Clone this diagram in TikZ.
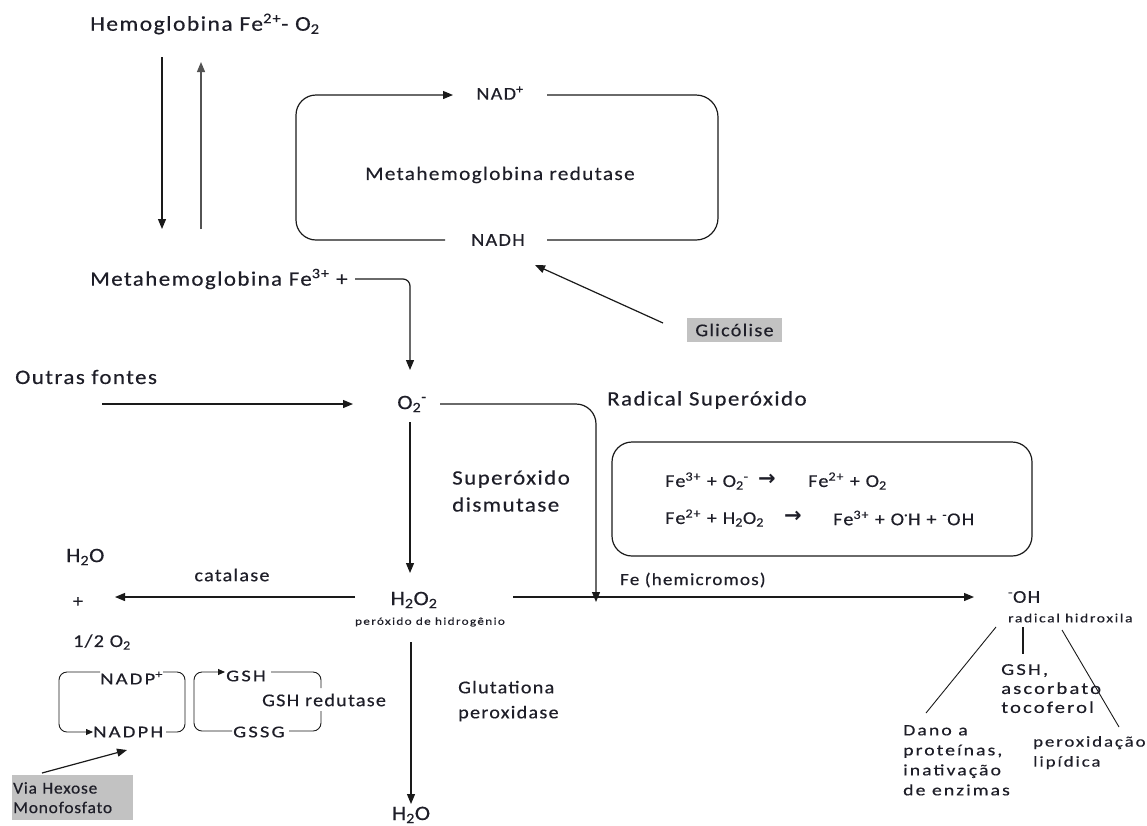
\documentclass[tikz,border=0pt]{standalone}
\usepackage{fontspec}
\setmainfont{Carlito}[LetterSpace=7,FakeStretch=1.12,FakeBold=0.4]
\newfontfamily\wideS{Carlito}[LetterSpace=13,FakeStretch=1.25,FakeBold=0.4]
\newfontfamily\normS{Carlito}[LetterSpace=5,FakeStretch=1.05,FakeBold=0.4]
\newfontfamily\dvsans{DejaVu Sans}
\usetikzlibrary{arrows.meta}
\definecolor{ink}{HTML}{1E1E28}
\definecolor{lc}{HTML}{1A1A1A}
\definecolor{gbox}{HTML}{C2C2C2}
\begin{document}
\begin{tikzpicture}[x=1pt,y=-1pt,
  t/.style={inner sep=0pt, text=ink},
  fL/.style={font=\fontsize{20.5}{27}\selectfont},
  fR/.style={font=\fontsize{19}{24}\selectfont},
  fM/.style={font=\fontsize{18}{25}\selectfont},
  fH/.style={font=\fontsize{17}{20}\selectfont},
  fS/.style={font=\wideS\fontsize{16.5}{20}\selectfont},
  fV/.style={font=\normS\fontsize{16.5}{19.5}\selectfont},
  fXS/.style={font=\wideS\fontsize{12.5}{15}\selectfont},
  fT/.style={font=\wideS\fontsize{10.5}{13}\selectfont},
  fA/.style={font=\dvsans\bfseries\fontsize{21}{22}\selectfont},
  ln/.style={draw=lc, line width=1.2pt},
  thin/.style={draw=lc, line width=0.9pt},
  arr/.style={ln, -{Triangle[length=10pt,width=8pt]}},
  arrs/.style={thin, -{Triangle[length=7pt,width=6pt]}},
  gray box/.style={fill=gbox, inner sep=0pt, text=ink}]
\useasboundingbox (0,0) rectangle (1147,825);

% hemoglobina
\node[t,fL,anchor=west,font=\fontsize{21}{27}\selectfont] (hb) at (90,24) {Hemoglobina Fe\textsuperscript{2+}- O\textsubscript{2}};
\node[t,fL,anchor=west] (mhb) at (90,279) {Metahemoglobina Fe\textsuperscript{3+} +};
\coordinate (d1s) at (162,57); \coordinate (d1e) at (162,229);
\coordinate (u1s) at (201,229); \coordinate (u1e) at (201,62);
\draw[arr] (d1s) -- (d1e);
\draw[arr,draw=lc!75] (u1s) -- (u1e);

% NAD box
\node[t,fM] (nadp) at (500,93) {NAD\textsuperscript{+}};
\node[t,fM] (nadh) at (498,240) {NADH};
\node[t,fR] (mhr) at (500,175) {Metahemoglobina redutase};
\coordinate (nbl) at (445,240); \coordinate (nbr) at (547,240);
\coordinate (ntl) at (453,95); \coordinate (ntr) at (547,95);
\draw[arr,rounded corners=20pt] (nbl) -- (296,240) -- (296,95) -- (ntl);
\draw[ln,rounded corners=22pt] (ntr) -- (718,95) -- (718,240) -- (nbr);

% glicolise
\node[gray box, fM, minimum width=95pt, minimum height=24pt] (gl) at (734.5,330) {Glicólise};
\coordinate (gla) at (663,323); \coordinate (glb) at (535,265);
\draw[arr] (gla) -- (glb);

% Metahemoglobina -> O2-
\node[t,fL] (o2) at (412,404) {O\textsubscript{2}\textsuperscript{-}};
\coordinate (m1) at (355,279); \coordinate (m2) at (410,370);
\draw[arr,rounded corners=7pt] (m1) -- (410,279) -- (m2);

% outras fontes
\node[t,fL,anchor=west] (of) at (15,377) {Outras fontes};
\coordinate (of1) at (102,404); \coordinate (of2) at (353,404);
\draw[arr] (of1) -- (of2);

% superoxide branch
\node[t,fL,anchor=west] (rs) at (607,400) {Radical Superóxido};
\coordinate (s1) at (440,404); \coordinate (s2) at (596,602);
\draw[arr,rounded corners=20pt] (s1) -- (596,404) -- (s2);

\node[t,fL,anchor=west,align=left] (sd) at (452,491) {Superóxido\\dismutase};
\coordinate (v1) at (410,422); \coordinate (v2) at (410,573);
\draw[arr] (v1) -- (v2);

% reaction box
\draw[ln,rounded corners=20pt] (612,442) rectangle (1032,556);
\node[t,fM,anchor=west] (r1a) at (665,481) {Fe\textsuperscript{3+} + O\textsubscript{2}\textsuperscript{-}};
\node[t,fA,anchor=west] (r1b) at (758,480) {→};
\node[t,fM,anchor=west] (r1c) at (808,481) {Fe\textsuperscript{2+} + O\textsubscript{2}};
\node[t,fM,anchor=west] (r2a) at (665,518) {Fe\textsuperscript{2+} + H\textsubscript{2}O\textsubscript{2}};
\node[t,fA,anchor=west] (r2b) at (784,517) {→};
\node[t,fM,anchor=west] (r2c) at (833,518) {Fe\textsuperscript{3+} + O\textsuperscript{·}H + \textsuperscript{-}OH};

% H2O2 and branches
\node[t,fL] (h2o2) at (414,600) {H\textsubscript{2}O\textsubscript{2}};
\node[t,fT] (perox) at (430,622) {peróxido de hidrogênio};
\node[t,fH,anchor=west] (hemi) at (620,580) {Fe (hemicromos)};
\coordinate (h1) at (513,597); \coordinate (h2) at (974,597);
\draw[arr] (h1) -- (h2);

\node[t,fM] (cat) at (232,575) {catalase};
\coordinate (c1) at (355,597); \coordinate (c2) at (115,597);
\draw[arr] (c1) -- (c2);
\node[t,fL,anchor=west] (h2o) at (66,557) {H\textsubscript{2}O};
\node[t,fM] (plus) at (78,602) {+};
\node[t,fM,anchor=west] (half) at (73,642) {1/2 O\textsubscript{2}};

% hydroxyl radical
\node[t,fM,anchor=west] (oh) at (1008,597) {\textsuperscript{-}OH};
\node[t,fXS,anchor=west] (rh) at (1008,618) {radical hidroxila};
\coordinate (l1a) at (996,627); \coordinate (l1b) at (926,713);
\coordinate (l2a) at (1023,627); \coordinate (l2b) at (1023,654);
\coordinate (l3a) at (1062,630); \coordinate (l3b) at (1119,727);
\draw[thin] (l1a) -- (l1b);
\draw[ln] (l2a) -- (l2b);
\draw[thin] (l3a) -- (l3b);
\node[t,anchor=north west,align=left,font=\wideS\fontsize{16.5}{19}\selectfont] (gsha) at (1001,664) {GSH,\\ascorbato\\tocoferol};
\node[t,anchor=north west,align=left,font=\wideS\fontsize{15.8}{20}\selectfont] (dano) at (903,725) {Dano a\\proteínas,\\inativação\\de enzimas};
\node[t,anchor=north west,align=left,font=\wideS\fontsize{15}{20}\selectfont] (lip) at (1033,736) {peroxidação\\lipídica};

% glutationa
\node[t,fM,anchor=west,align=left] (gp) at (458,701) {Glutationa\\peroxidase};
\coordinate (g1) at (411,642); \coordinate (g2) at (411,804);
\draw[arr] (g1) -- (g2);
\node[t,fL,anchor=base] (h2ob) at (411,820) {H\textsubscript{2}O};

% NADP cycle
\node[t,fS,anchor=west] (nadpp) at (100,678) {NADP\textsuperscript{+}};
\node[t,fS,anchor=west] (nadph) at (93,732) {NADPH};
\coordinate (na1) at (100,672); \coordinate (na2) at (93,732);
\draw[arrs,rounded corners=8pt] (na1) -- (59,672) -- (59,732) -- (na2);
\coordinate (na3) at (166,732); \coordinate (na4) at (163,672);
\draw[thin,rounded corners=8pt] (na3) -- (185,732) -- (185,672) -- (na4);

% GSH cycle
\node[t,fS,anchor=west] (gsh) at (226,676) {GSH};
\node[t,fS,anchor=west] (gssg) at (233,732) {GSSG};
\node[t,fM,anchor=west] (gshr) at (262,700) {GSH redutase};
\coordinate (gs1) at (232,731); \coordinate (gs2) at (225,672);
\draw[arrs,rounded corners=8pt] (gs1) -- (194,731) -- (194,672) -- (gs2);
\coordinate (gs3) at (271,672); \coordinate (gs4) at (321,688);
\draw[thin,rounded corners=8pt] (gs3) -- (321,672) -- (gs4);
\coordinate (gs5) at (321,711); \coordinate (gs6) at (289,731);
\draw[thin,rounded corners=8pt] (gs5) -- (321,731) -- (gs6);

% via hexose
\node[gray box, fV, anchor=north west, text width=119pt, minimum height=45pt, align=left, inner xsep=1pt] (vh) at (12,775) {Via Hexose\\Monofosfato};
\coordinate (vh1) at (42,773); \coordinate (vh2) at (127,750);
\draw[arr] (vh1) -- (vh2);
\end{tikzpicture}
\end{document}
